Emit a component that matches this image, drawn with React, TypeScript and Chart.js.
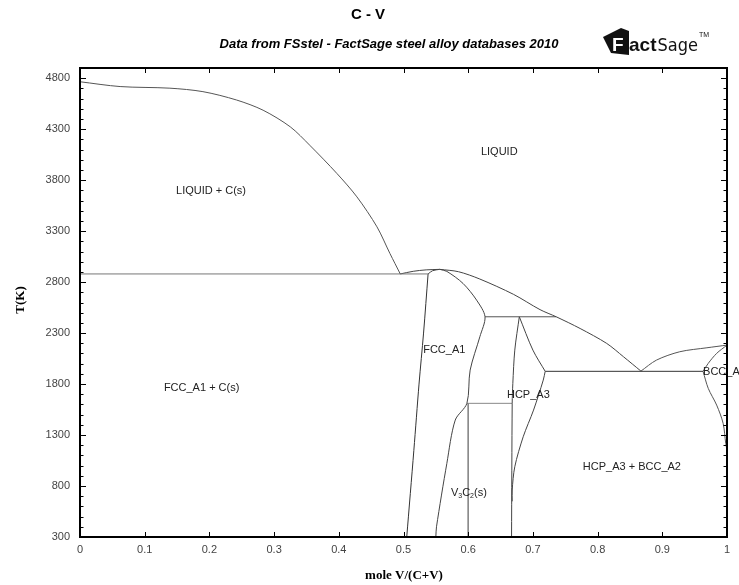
import React, { useEffect, useRef } from "react";
import { Chart, registerables } from "chart.js";

Chart.register(...registerables);

type Pt = [number, number];

// ---- axes ----
const X_MIN = 0;
const X_MAX = 1;
const Y_MIN = 300;
const Y_MAX = 4900;
const xMajorTicks = [0, 0.1, 0.2, 0.3, 0.4, 0.5, 0.6, 0.7, 0.8, 0.9, 1];
const xTickLabels = ["0", "0.1", "0.2", "0.3", "0.4", "0.5", "0.6", "0.7", "0.8", "0.9", "1"];
const yMajorTicks = [300, 800, 1300, 1800, 2300, 2800, 3300, 3800, 4300, 4800];
const yTickLabels = ["300", "800", "1300", "1800", "2300", "2800", "3300", "3800", "4300", "4800"];
const yMinorStep = 100;

// ---- phase boundaries: [mole V/(C+V), T(K)] ----
const liquidusCarbon: Pt[] = [
  [0, 4765], [0.062, 4718], [0.139, 4702], [0.19, 4668], [0.242, 4586], [0.283, 4486],
  [0.325, 4323], [0.355, 4143], [0.397, 3866], [0.428, 3636], [0.459, 3342], [0.479, 3081], [0.495, 2880],
];
const eutecticCarbon: Pt[] = [[0, 2880], [0.538, 2880]];
const liquidusFccLeft: Pt[] = [[0.495, 2880], [0.515, 2906], [0.535, 2920], [0.556, 2925]];
const fccSolidusTop: Pt[] = [[0.538, 2880], [0.545, 2912], [0.556, 2925]];
const liquidusFccRight: Pt[] = [
  [0.556, 2925], [0.585, 2902], [0.618, 2830], [0.670, 2680], [0.711, 2530], [0.736, 2460],
  [0.773, 2345], [0.814, 2199], [0.840, 2068], [0.867, 1927],
];
const fccRight: Pt[] = [
  [0.556, 2925], [0.567, 2905], [0.592, 2787], [0.613, 2623], [0.626, 2460], [0.618, 2264],
  [0.603, 1937], [0.598, 1611], [0.580, 1447], [0.567, 1022], [0.551, 400], [0.550, 300],
];
const fccLeft: Pt[] = [[0.538, 2880], [0.531, 2300], [0.524, 1800], [0.516, 1150], [0.505, 300]];
const peritecticLine: Pt[] = [[0.626, 2460], [0.736, 2460]];
const hcpLeft: Pt[] = [[0.679, 2460], [0.672, 2133], [0.669, 1807], [0.668, 1611], [0.667, 300]];
const hcpRightUpper: Pt[] = [[0.679, 2460], [0.700, 2133], [0.719, 1925]];
const hcpRightLower: Pt[] = [
  [0.719, 1925], [0.716, 1839], [0.701, 1545], [0.685, 1283], [0.672, 989], [0.668, 761], [0.668, 650],
];
const v3c2Top: Pt[] = [[0.598, 1611], [0.668, 1611]];
const v3c2Left: Pt[] = [[0.600, 1611], [0.600, 300]];
const eutecticHcpBcc: Pt[] = [[0.719, 1925], [0.963, 1925]];
const bccLiquidus: Pt[] = [[0.867, 1927], [0.891, 2035], [0.927, 2117], [0.969, 2156], [1.0, 2182]];
const bccSolidus: Pt[] = [[1.0, 2182], [0.984, 2101], [0.971, 2003], [0.963, 1925]];
const bccSolvus: Pt[] = [[0.963, 1925], [0.971, 1758], [0.984, 1594], [0.994, 1415], [0.998, 1219], [1.0, 1150]];

const curves: { pts: Pt[]; smooth: boolean; color: string }[] = [
  { pts: liquidusCarbon, smooth: true, color: "#555" },
  { pts: eutecticCarbon, smooth: false, color: "#777" },
  { pts: liquidusFccLeft, smooth: true, color: "#444" },
  { pts: fccSolidusTop, smooth: true, color: "#444" },
  { pts: liquidusFccRight, smooth: true, color: "#444" },
  { pts: fccRight, smooth: true, color: "#444" },
  { pts: fccLeft, smooth: true, color: "#333" },
  { pts: peritecticLine, smooth: false, color: "#555" },
  { pts: hcpLeft, smooth: true, color: "#444" },
  { pts: hcpRightUpper, smooth: true, color: "#444" },
  { pts: hcpRightLower, smooth: true, color: "#444" },
  { pts: v3c2Top, smooth: false, color: "#888" },
  { pts: v3c2Left, smooth: false, color: "#888" },
  { pts: eutecticHcpBcc, smooth: false, color: "#333" },
  { pts: bccLiquidus, smooth: true, color: "#555" },
  { pts: bccSolidus, smooth: true, color: "#555" },
  { pts: bccSolvus, smooth: true, color: "#555" },
];

// ---- region labels ----
const regionNames = ["LIQUID + C(s)", "LIQUID", "FCC_A1 + C(s)", "FCC_A1", "HCP_A3", "HCP_A3 + BCC_A2", "BCC_A2"];
const regionX = [0.2025, 0.648, 0.188, 0.563, 0.693, 0.853, 0.963];
const regionT = [3692, 4075, 1761, 2133, 1692, 983, 1918];
const regionAlign: CanvasTextAlign[] = ["center", "center", "center", "center", "center", "center", "left"];
const v3c2LabelX = 0.601;
const v3c2LabelT = 728;

const SANS = '"Liberation Sans", Arial, sans-serif';
const SERIF = '"Liberation Serif", "Times New Roman", serif';

const framePlugin = {
  id: "phaseFrame",
  afterDraw(chart: any) {
    const { ctx, chartArea: a } = chart;
    const xs = chart.scales.x;
    const ys = chart.scales.y;
    ctx.save();

    // region labels
    ctx.fillStyle = "#222";
    ctx.font = `11px ${SANS}`;
    ctx.textBaseline = "middle";
    regionNames.forEach((name, i) => {
      ctx.textAlign = regionAlign[i];
      ctx.fillText(name, xs.getPixelForValue(regionX[i]), ys.getPixelForValue(regionT[i]));
    });
    // V3C2(s) with subscripts
    {
      const parts: { t: string; sub: boolean }[] = [
        { t: "V", sub: false }, { t: "3", sub: true }, { t: "C", sub: false }, { t: "2", sub: true }, { t: "(s)", sub: false },
      ];
      const big = `11px ${SANS}`;
      const small = `7px ${SANS}`;
      let total = 0;
      parts.forEach((p) => {
        ctx.font = p.sub ? small : big;
        total += ctx.measureText(p.t).width;
      });
      let px = xs.getPixelForValue(v3c2LabelX) - total / 2;
      const py = ys.getPixelForValue(v3c2LabelT);
      ctx.textAlign = "left";
      parts.forEach((p) => {
        ctx.font = p.sub ? small : big;
        ctx.fillText(p.t, px, p.sub ? py + 3 : py);
        px += ctx.measureText(p.t).width;
      });
    }

    // frame
    ctx.strokeStyle = "#000";
    ctx.lineWidth = 2;
    ctx.strokeRect(a.left, a.top, a.right - a.left, a.bottom - a.top);

    // ticks
    ctx.lineWidth = 1;
    ctx.beginPath();
    for (let v = Y_MIN; v <= Y_MAX; v += yMinorStep) {
      const py = Math.round(ys.getPixelForValue(v)) + 0.5;
      const major = yMajorTicks.includes(v);
      const len = major ? 6 : 3.5;
      ctx.moveTo(a.left, py);
      ctx.lineTo(a.left + len, py);
      ctx.moveTo(a.right, py);
      ctx.lineTo(a.right - len, py);
    }
    xMajorTicks.forEach((v) => {
      const px = Math.round(xs.getPixelForValue(v)) + 0.5;
      ctx.moveTo(px, a.bottom);
      ctx.lineTo(px, a.bottom - 5);
      ctx.moveTo(px, a.top);
      ctx.lineTo(px, a.top + 5);
    });
    ctx.stroke();

    // axis titles
    ctx.fillStyle = "#000";
    ctx.font = `bold 13px ${SERIF}`;
    ctx.textAlign = "center";
    ctx.textBaseline = "middle";
    ctx.fillText("mole V/(C+V)", 404, 576);
    ctx.save();
    ctx.translate(21, 300);
    ctx.rotate(-Math.PI / 2);
    ctx.fillText("T(K)", 0, 0);
    ctx.restore();

    // title & subtitle
    ctx.font = `bold 15px ${SANS}`;
    ctx.fillText("C - V", 368, 15);
    ctx.font = `italic bold 13px ${SANS}`;
    ctx.fillText("Data from FSstel - FactSage steel alloy databases 2010", 389, 44);

    // logo
    ctx.save();
    ctx.fillStyle = "#111";
    ctx.beginPath();
    ctx.moveTo(603, 37);
    ctx.lineTo(621, 28);
    ctx.lineTo(629, 31);
    ctx.lineTo(629, 55);
    ctx.lineTo(611, 53);
    ctx.closePath();
    ctx.fill();
    ctx.fillStyle = "#fff";
    ctx.font = `bold 19px ${SANS}`;
    ctx.textAlign = "left";
    ctx.textBaseline = "alphabetic";
    ctx.fillText("F", 612, 51);
    ctx.fillStyle = "#111";
    ctx.font = `900 19px ${SANS}`;
    ctx.fillText("act", 629, 51);
    const wAct = ctx.measureText("act").width;
    ctx.font = `18px "DejaVu Sans Condensed", ${SANS}`;
    ctx.fillText("Sage", 629 + wAct + 1, 51);
    const wSage = ctx.measureText("Sage").width;
    ctx.font = `7px ${SANS}`;
    ctx.fillText("TM", 629 + wAct + wSage + 2, 37);
    ctx.restore();

    ctx.restore();
  },
};

export default function App() {
  const ref = useRef<HTMLCanvasElement | null>(null);
  useEffect(() => {
    if (!ref.current) return;
    const chart = new Chart(ref.current, {
      type: "scatter",
      data: {
        datasets: curves.map((c) => ({
          data: c.pts.map(([x, y]) => ({ x, y })),
          showLine: true,
          borderColor: c.color,
          borderWidth: 1,
          pointRadius: 0,
          pointHoverRadius: 0,
          tension: c.smooth ? 0.3 : 0,
          fill: false,
        })),
      },
      options: {
        animation: false,
        responsive: false,
        maintainAspectRatio: false,
        events: [],
        layout: { padding: { top: 68, right: 12, left: 0, bottom: 0 } },
        plugins: {
          legend: { display: false },
          tooltip: { enabled: false },
          title: { display: false },
        },
        scales: {
          x: {
            type: "linear",
            min: X_MIN,
            max: X_MAX,
            afterFit: (s: any) => {
              s.height = 48;
            },
            afterBuildTicks: (s: any) => {
              s.ticks = xMajorTicks.map((v) => ({ value: v }));
            },
            ticks: {
              autoSkip: false,
              maxRotation: 0,
              padding: 6,
              color: "#444",
              font: { family: SANS, size: 11 },
              callback: (v: any) => {
                const i = xMajorTicks.findIndex((t) => Math.abs(t - Number(v)) < 1e-9);
                return i >= 0 ? xTickLabels[i] : "";
              },
            },
            grid: { display: false, drawTicks: false },
            border: { display: false },
          },
          y: {
            type: "linear",
            min: Y_MIN,
            max: Y_MAX,
            afterFit: (s: any) => {
              s.width = 80;
            },
            afterBuildTicks: (s: any) => {
              s.ticks = yMajorTicks.map((v) => ({ value: v }));
            },
            ticks: {
              autoSkip: false,
              padding: 10,
              color: "#444",
              font: { family: SANS, size: 11 },
              callback: (v: any) => {
                const i = yMajorTicks.indexOf(Number(v));
                return i >= 0 ? yTickLabels[i] : "";
              },
            },
            grid: { display: false, drawTicks: false },
            border: { display: false },
          },
        },
      },
      plugins: [framePlugin],
    } as any);
    return () => chart.destroy();
  }, []);

  return (
    <div style={{ position: "absolute", left: 0, top: 0, width: 739, height: 585, background: "#fff" }}>
      <canvas ref={ref} width={739} height={585} style={{ width: 739, height: 585, display: "block" }} />
    </div>
  );
}
